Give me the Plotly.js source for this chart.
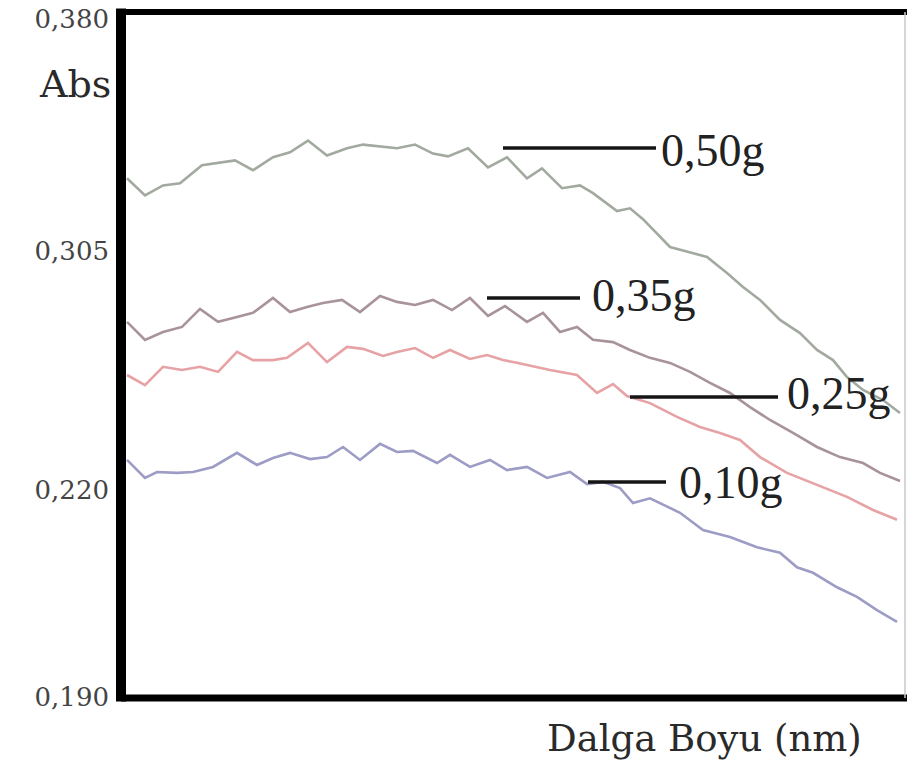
<!DOCTYPE html>
<html><head><meta charset="utf-8">
<script src="https://cdn.plot.ly/plotly-3.0.1.min.js"></script>
<style>html,body{margin:0;padding:0;background:#fff;}#chart{width:907px;height:762px;}</style>
</head><body><div id="chart"></div>
<script>
// ---- data (relative wavelength position, absorbance) ----
const seriesNames = ['0,50g', '0,35g', '0,25g', '0,10g'];

const wl050 = [6,24,42,59,81,99,114,132,152,169,187,206,226,242,262,276,294,312,327,347,367,386,406,421,441,459,472,496,509,522,549,569,586,606,622,639,659,679,696,712,726,742,762,779];
const abs050 = [0.3285,0.3230,0.3262,0.3269,0.3327,0.3336,0.3343,0.3311,0.3353,0.3369,0.3407,0.3359,0.3382,0.3394,0.3388,0.3382,0.3394,0.3365,0.3356,0.3382,0.3320,0.3353,0.3285,0.3317,0.3253,0.3262,0.3237,0.3179,0.3188,0.3153,0.3063,0.3046,0.3029,0.2972,0.2922,0.2876,0.2805,0.2758,0.2698,0.2662,0.2602,0.2556,0.2520,0.2474];

const wl035 = [6,24,42,61,79,97,116,132,152,169,186,202,221,239,259,276,294,312,331,349,367,384,406,422,439,456,472,492,509,529,549,569,589,609,629,649,672,696,719,742,759,779];
const abs035 = [0.2798,0.2734,0.2762,0.2780,0.2844,0.2798,0.2815,0.2830,0.2883,0.2833,0.2851,0.2865,0.2876,0.2833,0.2890,0.2869,0.2858,0.2876,0.2840,0.2883,0.2819,0.2854,0.2798,0.2830,0.2762,0.2780,0.2734,0.2726,0.2698,0.2670,0.2652,0.2620,0.2581,0.2545,0.2495,0.2449,0.2403,0.2353,0.2317,0.2296,0.2261,0.2232];

const wl025 = [6,24,42,61,79,97,116,132,152,166,187,206,226,242,262,276,294,312,329,349,366,382,397,429,456,476,492,506,529,556,579,599,619,639,666,692,726,752,776];
const abs025 = [0.2609,0.2573,0.2638,0.2627,0.2638,0.2620,0.2691,0.2662,0.2662,0.2670,0.2723,0.2655,0.2709,0.2702,0.2677,0.2691,0.2705,0.2670,0.2698,0.2666,0.2680,0.2662,0.2652,0.2627,0.2609,0.2545,0.2577,0.2534,0.2509,0.2460,0.2424,0.2403,0.2378,0.2317,0.2261,0.2225,0.2190,0.2171,0.2157];

const wl010 = [6,24,36,56,72,92,116,136,152,169,189,206,222,239,259,276,292,316,329,349,369,386,406,426,449,466,482,499,512,529,559,582,609,636,659,676,692,716,736,756,776];
const abs010 = [0.2307,0.2243,0.2264,0.2261,0.2264,0.2282,0.2332,0.2289,0.2314,0.2332,0.2310,0.2317,0.2353,0.2307,0.2364,0.2335,0.2339,0.2296,0.2325,0.2282,0.2307,0.2271,0.2282,0.2243,0.2264,0.2221,0.2229,0.2207,0.2181,0.2188,0.2167,0.2142,0.2132,0.2117,0.2109,0.2088,0.2080,0.2059,0.2045,0.2026,0.2009];

const yTickValues = [0.190, 0.220, 0.305, 0.380];
const yTickLabels = ['0,190', '0,220', '0,305', '0,380'];

// ---- the original absorbance axis is not uniform: ticks are placed at these heights ----
const tickHeights = [1, 208, 447, 679];
function toAxis(v) {
  const k = yTickValues, h = tickHeights;
  let i = 0;
  if (v >= k[k.length - 1]) i = k.length - 2;
  else { while (i < k.length - 2 && v > k[i + 1]) i++; }
  return h[i] + (v - k[i]) * (h[i + 1] - h[i]) / (k[i + 1] - k[i]);
}

const W = 907, H = 762, L = 121, R = 2, T = 12, B = 64;
const pw = W - L - R, ph = H - T - B;
const px = p => (p - L) / pw;
const py = p => (H - B - p) / ph;

const series = [
  {x: wl050, y: abs050, color: '#a2aaa0'},
  {x: wl035, y: abs035, color: '#a8939a'},
  {x: wl025, y: abs025, color: '#e6a2a4'},
  {x: wl010, y: abs010, color: '#9c9cc6'}
];

const traces = series.map((s, i) => ({
  type: 'scatter', mode: 'lines', name: seriesNames[i],
  x: s.x, y: s.y.map(toAxis),
  line: {color: s.color, width: 2.6},
  hoverinfo: 'skip'
}));

const labelSpec = [
  {x0: 503, x1: 656, y: 148, tx: 659, ty: 151},
  {x0: 487, x1: 580, y: 298, tx: 590, ty: 295},
  {x0: 630, x1: 778, y: 397, tx: 785, ty: 393},
  {x0: 588, x1: 666, y: 482, tx: 677, ty: 482}
];

const shapes = [
  {type: 'line', xref: 'paper', yref: 'paper', x0: 0, x1: 0, y0: -0.005, y1: 1.005, line: {color: '#000', width: 10}},
  {type: 'line', xref: 'paper', yref: 'paper', x0: 0, x1: (W - L) / pw, y0: 1, y1: 1, line: {color: '#000', width: 6}},
  {type: 'line', xref: 'paper', yref: 'paper', x0: 0, x1: (W - L) / pw, y0: 0, y1: 0, line: {color: '#000', width: 7}},
  {type: 'line', xref: 'paper', yref: 'paper', x0: 1, x1: 1, y0: 0, y1: 1, line: {color: '#c8c8c8', width: 1.5}}
];
labelSpec.forEach(l => shapes.push({type: 'line', xref: 'paper', yref: 'paper',
  x0: px(l.x0), x1: px(l.x1), y0: py(l.y), y1: py(l.y), line: {color: '#151515', width: 3.5}}));

const annotations = labelSpec.map((l, i) => ({
  xref: 'paper', yref: 'paper', x: px(l.tx), y: py(l.ty), xanchor: 'left', yanchor: 'middle',
  text: seriesNames[i], showarrow: false,
  font: {family: 'Liberation Serif', size: 46, color: '#222'}
}));
annotations.push({xref: 'paper', yref: 'paper', x: px(113), y: py(84), xanchor: 'right', yanchor: 'middle',
  text: 'Abs', showarrow: false, font: {family: 'DejaVu Serif', size: 38, color: '#2a2a2a'}});
annotations.push({xref: 'paper', yref: 'paper', x: px(704), y: py(738), xanchor: 'center', yanchor: 'middle',
  text: 'Dalga Boyu (nm)', showarrow: false, font: {family: 'DejaVu Serif', size: 37, color: '#2a2a2a'}});

const layout = {
  width: W, height: H,
  margin: {l: L, r: R, t: T, b: B},
  paper_bgcolor: '#fff', plot_bgcolor: '#fff',
  showlegend: false,
  xaxis: {range: [0, pw], showgrid: false, zeroline: false, showticklabels: false, ticks: '', showline: false, fixedrange: true},
  yaxis: {range: [0, ph], showgrid: false, zeroline: false, showline: false, ticks: '',
    tickmode: 'array', tickvals: yTickValues.map(toAxis), ticktext: yTickLabels,
    ticklabelstandoff: 11,
    tickfont: {family: 'DejaVu Serif', size: 26, color: '#444'}, fixedrange: true},
  shapes: shapes,
  annotations: annotations
};

Plotly.newPlot('chart', traces, layout, {displayModeBar: false, staticPlot: true});
</script>
</body></html>
